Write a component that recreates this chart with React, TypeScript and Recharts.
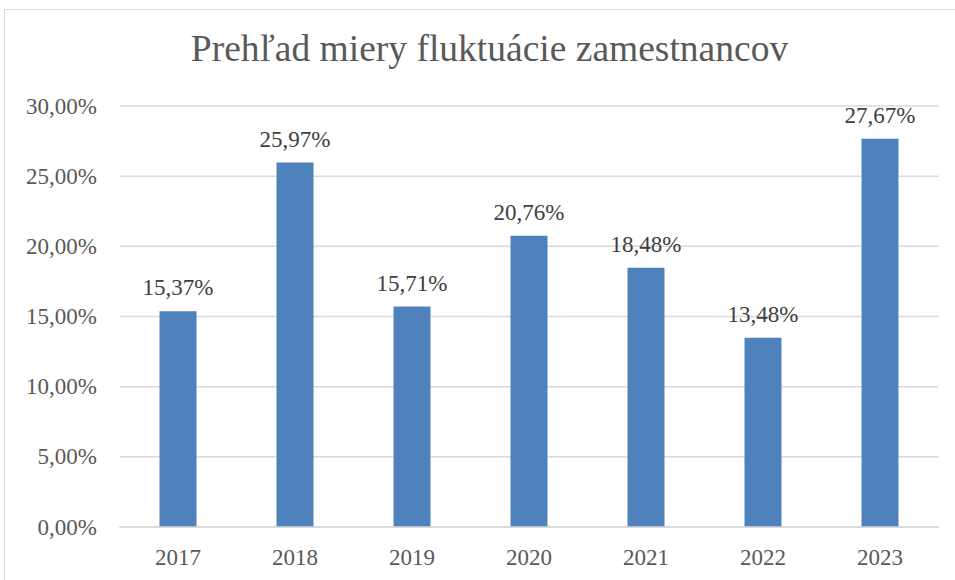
import React from 'react';
import { BarChart, Bar, XAxis, YAxis, CartesianGrid, LabelList } from 'recharts';

const years = ['2017', '2018', '2019', '2020', '2021', '2022', '2023'];
const turnover = [15.37, 25.97, 15.71, 20.76, 18.48, 13.48, 27.67];
const yTicks = [0, 5, 10, 15, 20, 25, 30];

const data = years.map((y, i) => ({ year: y, value: turnover[i] }));

const fmt = (v: number) => v.toFixed(2).replace('.', ',') + '%';
const serif = 'Liberation Serif';

const XTick = (props: any) => {
  const { x, y, payload } = props;
  return (
    <text x={x} y={y + 38} textAnchor="middle" style={{ fontFamily: serif, fontSize: 23, fill: '#595959' }}>
      {payload.value}
    </text>
  );
};

const YTick = (props: any) => {
  const { x, y, payload } = props;
  return (
    <text x={x} y={y + 7.5} textAnchor="end" style={{ fontFamily: serif, fontSize: 23, fill: '#595959' }}>
      {fmt(payload.value)}
    </text>
  );
};

const BarLabel = (props: any) => {
  const { x, y, width, value } = props;
  return (
    <text x={x + width / 2} y={y - 16} textAnchor="middle" style={{ fontFamily: serif, fontSize: 23, fill: '#404040' }}>
      {fmt(Number(value))}
    </text>
  );
};

const App: React.FC = () => {
  return (
    <div style={{ position: 'absolute', left: 0, top: 0, width: 955, height: 580, background: '#fff', overflow: 'hidden', fontFamily: serif }}>
      <div
        style={{
          position: 'absolute',
          left: 4,
          top: 9,
          width: 1000,
          height: 620,
          border: '1.5px solid #d9d9d9',
        }}
      />
      <div
        style={{
          position: 'absolute',
          left: 12,
          top: 27,
          width: 955,
          textAlign: 'center',
          fontFamily: serif,
          fontSize: 37.5,
          color: '#595959',
          lineHeight: '44px',
        }}
      >
        Prehľad miery fluktuácie zamestnancov
      </div>
      <div style={{ position: 'absolute', left: 0, top: 0 }}>
        <BarChart
          width={955}
          height={580}
          data={data}
          margin={{ top: 106, right: 16.5, bottom: 23, left: 9.5 }}
          style={{ fontFamily: serif }}
        >
          <CartesianGrid vertical={false} stroke="#d9d9d9" strokeWidth={1.5} />
          <XAxis
            dataKey="year"
            height={30}
            axisLine={{ stroke: '#d9d9d9', strokeWidth: 1.5 }}
            tickLine={false}
            tickSize={0}
            tickMargin={0}
            tick={<XTick />}
          />
          <YAxis
            width={110}
            domain={[0, 30]}
            ticks={yTicks}
            axisLine={false}
            tickLine={false}
            tickSize={0}
            tickMargin={22.5}
            tick={<YTick />}
          />
          <Bar dataKey="value" fill="#4f81bd" barSize={37} isAnimationActive={false}>
            <LabelList dataKey="value" content={<BarLabel />} />
          </Bar>
        </BarChart>
      </div>
    </div>
  );
};

export default App;
